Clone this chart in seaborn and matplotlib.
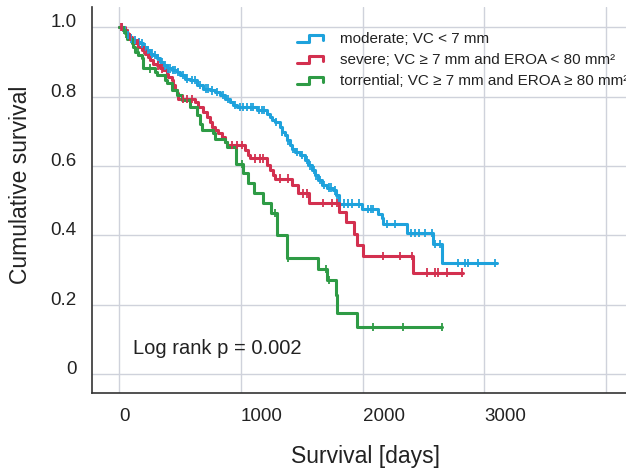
import numpy as np
import pandas as pd
import matplotlib
matplotlib.use("Agg")
import matplotlib.pyplot as plt
from matplotlib.lines import Line2D
from matplotlib.legend_handler import HandlerBase
import seaborn as sns

# ── Data ──────────────────────────────────────────────────────────────────────
GROUPS = [
    "moderate; VC < 7 mm",
    "severe; VC ≥ 7 mm and EROA < 80 mm²",
    "torrential; VC ≥ 7 mm and EROA ≥ 80 mm²",
]

# event times (days) and survival right after each event
MOD_T = [33, 61, 88, 115, 143, 170, 197, 225, 252, 279, 307, 334, 362, 389, 430,
         471, 499, 540, 581, 636, 690, 745, 786, 827, 868, 910, 937, 964, 1129,
         1211, 1238, 1252, 1279, 1320, 1334, 1362, 1375, 1403, 1417, 1444, 1485,
         1526, 1553, 1581, 1608, 1636, 1663, 1704, 1759, 1781, 1808, 1992, 2128,
         2156, 2170, 2367, 2580, 2649]
MOD_S = [0.991, 0.977, 0.967, 0.963, 0.958, 0.953, 0.943, 0.934, 0.924, 0.919,
         0.910, 0.900, 0.890, 0.881, 0.876, 0.871, 0.862, 0.852, 0.847, 0.833,
         0.823, 0.818, 0.814, 0.804, 0.794, 0.785, 0.775, 0.770, 0.761, 0.751,
         0.741, 0.732, 0.727, 0.713, 0.698, 0.689, 0.674, 0.660, 0.650, 0.641,
         0.631, 0.617, 0.602, 0.588, 0.573, 0.559, 0.545, 0.538, 0.530, 0.516,
         0.492, 0.477, 0.463, 0.449, 0.434, 0.407, 0.375, 0.321]
MOD_CENS = [20, 45, 75, 100, 130, 160, 185, 215, 240, 265, 290, 320, 350, 375, 400,
            415, 445, 460, 485, 520, 555, 600, 620, 660, 710, 730, 760, 800, 850,
            890, 950, 990, 1020, 1050, 1080, 1100, 1150, 1170, 1190, 1290, 1340,
            1390, 1430, 1460, 1500, 1540, 1570, 1600, 1620, 1650, 1680, 1720,
            1740, 1770, 1790, 1850, 1880, 1909, 1972, 2046, 2066, 2082, 2203,
            2265, 2394, 2430, 2465, 2512, 2567, 2594, 2635, 2786, 2841, 2868,
            2950, 3090]
MOD_END = 3100

SEV_T = [47, 61, 74, 102, 129, 156, 184, 211, 238, 252, 279, 307, 334, 362, 389,
         403, 430, 444, 458, 471, 485, 622, 649, 691, 718, 745, 759, 786, 814,
         841, 868, 882, 1033, 1060, 1074, 1211, 1238, 1265, 1279, 1417, 1471,
         1561, 1808, 1863, 1929, 1956, 2000, 2416]
SEV_S = [0.991, 0.982, 0.972, 0.963, 0.953, 0.943, 0.934, 0.924, 0.914, 0.905,
         0.895, 0.890, 0.881, 0.876, 0.866, 0.857, 0.847, 0.833, 0.818, 0.809,
         0.794, 0.785, 0.770, 0.756, 0.741, 0.727, 0.713, 0.703, 0.694, 0.684,
         0.669, 0.660, 0.646, 0.631, 0.622, 0.602, 0.588, 0.573, 0.564, 0.545,
         0.521, 0.494, 0.468, 0.439, 0.405, 0.372, 0.340, 0.293]
SEV_CENS = [10, 25, 90, 150, 200, 320, 350, 520, 560, 600, 930, 964, 1006, 1115,
            1156, 1183, 1320, 1389, 1512, 1540, 1676, 1745, 1786, 2164, 2307,
            2403, 2526, 2594, 2621, 2690, 2813]
SEV_END = 2820

TOR_T = [33, 47, 61, 102, 115, 129, 156, 184, 197, 293, 307, 375, 389, 430, 471,
         513, 581, 636, 663, 677, 773, 786, 868, 882, 959, 1019, 1060, 1107,
         1178, 1244, 1299, 1381, 1635, 1704, 1781, 1792, 1950]
TOR_S = [0.991, 0.982, 0.967, 0.953, 0.943, 0.929, 0.919, 0.910, 0.881, 0.871,
         0.862, 0.847, 0.838, 0.818, 0.804, 0.790, 0.770, 0.746, 0.722, 0.703,
         0.694, 0.679, 0.669, 0.655, 0.605, 0.580, 0.550, 0.523, 0.494, 0.465,
         0.401, 0.336, 0.304, 0.271, 0.228, 0.178, 0.136]
TOR_CENS = [40, 55, 150, 250, 1006, 1279, 1389, 1695, 1720, 2087, 2334, 2649]
TOR_END = 2655

X_TICKS = [0, 1000, 2000, 3000, 4000]
X_TICK_LABELS = ["0", "1000", "2000", "3000", ""]
Y_TICKS = [0, 0.2, 0.4, 0.6, 0.8, 1.0]
Y_TICK_LABELS = ["0", "0.2", "0.4", "0.6", "0.8", "1.0"]
P_TEXT = "Log rank p = 0.002"

COLORS = ["#1ea2dc", "#d3304f", "#2e9b45"]

# ── Style ─────────────────────────────────────────────────────────────────────
sns.set_style("white")
plt.rcParams["font.family"] = ["Liberation Sans", "DejaVu Sans"]
plt.rcParams["text.color"] = "#222222"


class HandlerStep(HandlerBase):
    """Little step-shaped legend key."""
    def create_artists(self, legend, orig, x0, y0, w, h, fontsize, trans):
        xs = [x0, x0 + 0.45 * w, x0 + 0.45 * w, x0 + w, x0 + w]
        ys = [y0 + 0.1 * h, y0 + 0.1 * h, y0 + 0.75 * h, y0 + 0.75 * h, y0 + 0.25 * h]
        ln = Line2D(xs, ys, color=orig.get_color(), lw=2.2, transform=trans)
        return [ln]


def km_frame(name, times, surv, end):
    x = [0] + list(times) + [end]
    y = [1.0] + list(surv) + [surv[-1]]
    return pd.DataFrame({"t": x, "s": y, "group": name})


def cens_frame(name, times, surv, cens):
    t = np.asarray(times)
    s = np.concatenate([[1.0], surv])
    idx = np.searchsorted(t, cens, side="right")
    return pd.DataFrame({"t": cens, "s": s[idx], "group": name})


series = [(MOD_T, MOD_S, MOD_CENS, MOD_END),
          (SEV_T, SEV_S, SEV_CENS, SEV_END),
          (TOR_T, TOR_S, TOR_CENS, TOR_END)]
steps = pd.concat([km_frame(g, t, s, e) for g, (t, s, c, e) in zip(GROUPS, series)])
cens = pd.concat([cens_frame(g, t, s, c) for g, (t, s, c, e) in zip(GROUPS, series)])
palette = dict(zip(GROUPS, COLORS))

fig = plt.figure(figsize=(6.26, 4.68), dpi=100)
ax = fig.add_axes([0.147, 0.160, 0.853, 0.825])

sns.lineplot(data=steps, x="t", y="s", hue="group", palette=palette,
             drawstyle="steps-post", estimator=None, lw=2.2, legend=False,
             ax=ax, zorder=3)
sns.scatterplot(data=cens, x="t", y="s", hue="group", palette=palette,
                marker="|", s=36, linewidth=1.3, legend=False, ax=ax, zorder=4)

ax.set_xlim(-224, 4163)
ax.set_ylim(-0.054, 1.058)
ax.set_xticks(X_TICKS)
ax.set_xticklabels(X_TICK_LABELS)
ax.set_yticks(Y_TICKS)
ax.set_yticklabels(Y_TICK_LABELS)
ax.tick_params(axis="both", length=0, labelsize=13.5, labelcolor="#222222")
ax.tick_params(axis="x", pad=11)
ax.tick_params(axis="y", pad=11)
for lab in ax.get_xticklabels():
    lab.set_ha("left")
for lab in ax.get_yticklabels():
    lab.set_va("baseline")

ax.grid(True, color="#cfd2db", lw=1.0)
ax.set_axisbelow(True)
for side in ["top", "right"]:
    ax.spines[side].set_visible(False)
for side in ["left", "bottom"]:
    ax.spines[side].set_color("#333333")
    ax.spines[side].set_linewidth(1.2)

ax.set_xlabel("Survival [days]", fontsize=16.5, color="#222222")
ax.set_ylabel("Cumulative survival", fontsize=16.5, color="#222222")
ax.xaxis.set_label_coords(0.513, -0.135)
ax.yaxis.set_label_coords(-0.113, 0.54)

ax.text(113, 0.075, P_TEXT, fontsize=14.5, va="center", ha="left")

handles = [Line2D([], [], color=c) for c in COLORS]
ax.legend(handles, GROUPS, handler_map={Line2D: HandlerStep()},
          loc="upper left", bbox_to_anchor=(297 / 626, 1 - 32 / 468),
          bbox_transform=fig.transFigure, frameon=False, fontsize=11,
          handlelength=1.7, handletextpad=1.1, labelspacing=0.45,
          borderpad=0, borderaxespad=0)

fig.savefig("out.png", dpi=100)
